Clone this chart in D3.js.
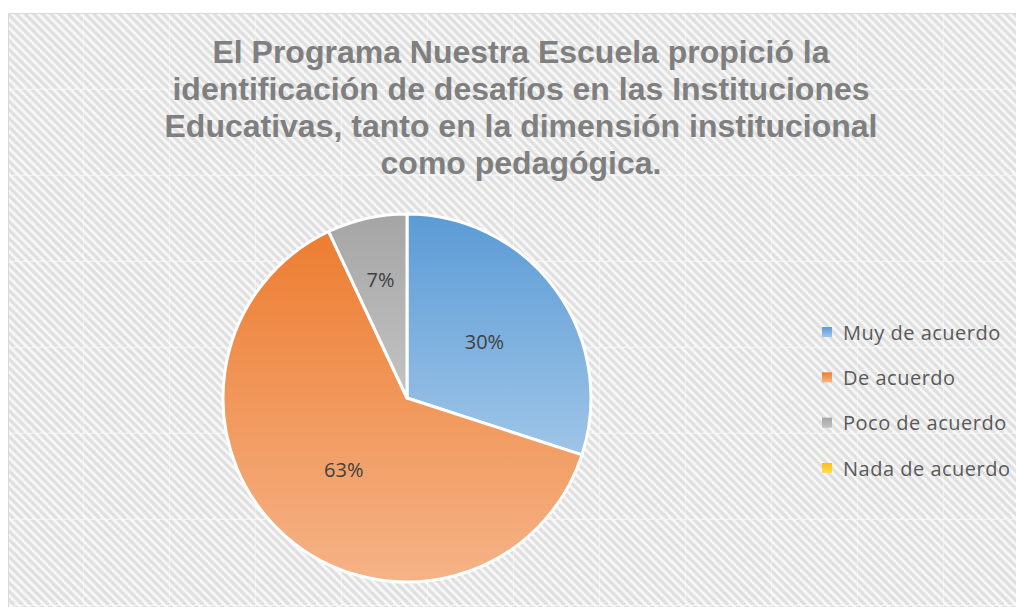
<!DOCTYPE html>
<html>
<head>
<meta charset="utf-8">
<script src="https://cdn.jsdelivr.net/npm/d3@7/dist/d3.min.js"></script>
<style>
  body { margin: 0; background: #fff; }
  svg { display: block; }
</style>
</head>
<body>
<div id="chart"></div>
<script>
// chart data
const categories = ["Muy de acuerdo", "De acuerdo", "Poco de acuerdo", "Nada de acuerdo"];
const values = [30, 63, 7, 0];
const titleLines = [
  "El Programa Nuestra Escuela propició la",
  "identificación  de desafíos en las Instituciones",
  "Educativas, tanto en la dimensión institucional",
  "como pedagógica."
];
const colorsTop = ["#5b9bd5", "#ed7d31", "#a5a5a5", "#ffc000"];
const colorsBottom = ["#9fc5e8", "#f5b387", "#c3c3c3", "#ffd966"];

const width = 1016, height = 607;
const cx = 407, cy = 398, radius = 184;

const svg = d3.select("#chart").append("svg")
  .attr("width", width)
  .attr("height", height);

const defs = svg.append("defs");

// striped background texture, tile has faint seams like the original
const tile = 86;
const pat = defs.append("pattern")
  .attr("id", "stripes")
  .attr("patternUnits", "userSpaceOnUse")
  .attr("x", 83).attr("y", 89)
  .attr("width", tile).attr("height", tile);
pat.append("rect").attr("width", tile).attr("height", tile).attr("fill", "#f7f7f7");
const step = tile / 10;
for (let i = -10; i <= 20; i++) {
  pat.append("line")
    .attr("x1", i * step).attr("y1", 0)
    .attr("x2", i * step + tile).attr("y2", tile)
    .attr("stroke", "#e0e0e0")
    .attr("stroke-width", 3.2);
}
pat.append("line").attr("x1", 0.5).attr("y1", 0).attr("x2", 0.5).attr("y2", tile)
  .attr("stroke", "#fafafa").attr("stroke-width", 1).attr("opacity", 0.5);
pat.append("line").attr("x1", 0).attr("y1", 0.5).attr("x2", tile).attr("y2", 0.5)
  .attr("stroke", "#fafafa").attr("stroke-width", 1).attr("opacity", 0.5);

// per-slice vertical gradients
categories.forEach((c, i) => {
  const g = defs.append("linearGradient")
    .attr("id", "grad" + i)
    .attr("x1", 0).attr("y1", 0).attr("x2", 0).attr("y2", 1);
  g.append("stop").attr("offset", "0%").attr("stop-color", colorsTop[i]);
  g.append("stop").attr("offset", "100%").attr("stop-color", colorsBottom[i]);
});

svg.append("rect")
  .attr("x", 8.5).attr("y", 13.5)
  .attr("width", 1030).attr("height", 620)
  .attr("fill", "url(#stripes)")
  .attr("stroke", "#d9d9d9")
  .attr("stroke-width", 1);

// title
svg.append("text")
  .attr("x", 521)
  .attr("y", 63)
  .attr("text-anchor", "middle")
  .style("font-family", "'Liberation Sans', Arial, sans-serif")
  .style("font-weight", "bold")
  .style("font-size", "32px")
  .style("fill", "#7f7f7f")
  .selectAll("tspan")
  .data(titleLines)
  .join("tspan")
  .attr("x", 521)
  .attr("dy", (d, i) => i === 0 ? 0 : 37)
  .text(d => d);

// pie
const pie = d3.pie().sort(null).value(d => d.value);
const data = categories.map((c, i) => ({ name: c, value: values[i], index: i }));
const arcs = pie(data);
const arc = d3.arc().innerRadius(0).outerRadius(radius);

const total = d3.sum(values);
const labelArc = d3.arc().innerRadius(radius * 0.52).outerRadius(radius * 0.52);
const smallLabelArc = d3.arc().innerRadius(radius * 0.66).outerRadius(radius * 0.66);

const g = svg.append("g").attr("transform", `translate(${cx},${cy})`);

g.selectAll("path")
  .data(arcs.filter(d => d.data.value > 0))
  .join("path")
  .attr("d", arc)
  .attr("fill", d => `url(#grad${d.data.index})`)
  .attr("stroke", "#fff")
  .attr("stroke-width", 3)
  .attr("stroke-linejoin", "round");

g.selectAll("text")
  .data(arcs.filter(d => d.data.value > 0))
  .join("text")
  .attr("transform", d => {
    const a = d.data.value / total < 0.1 ? smallLabelArc : labelArc;
    return `translate(${a.centroid(d)})`;
  })
  .attr("text-anchor", "middle")
  .attr("dominant-baseline", "central")
  .style("font-family", "'Open Sans', sans-serif")
  .style("font-size", "20px")
  .style("fill", "#404040")
  .text(d => Math.round(d.data.value / total * 100) + "%");

// legend
const legendY = d3.scalePoint().domain(categories).range([332, 468]);
const legend = svg.append("g");
const item = legend.selectAll("g")
  .data(categories)
  .join("g")
  .attr("transform", d => `translate(822,${legendY(d)})`);
item.append("rect")
  .attr("x", 0).attr("y", -5)
  .attr("width", 10).attr("height", 10)
  .attr("fill", (d, i) => `url(#grad${i})`);
item.append("text")
  .attr("x", 21)
  .attr("y", 0)
  .attr("dominant-baseline", "central")
  .style("font-family", "'Open Sans', sans-serif")
  .style("font-size", "20px")
  .style("letter-spacing", "0.5px")
  .style("fill", "#595959")
  .text(d => d);
</script>
</body>
</html>
